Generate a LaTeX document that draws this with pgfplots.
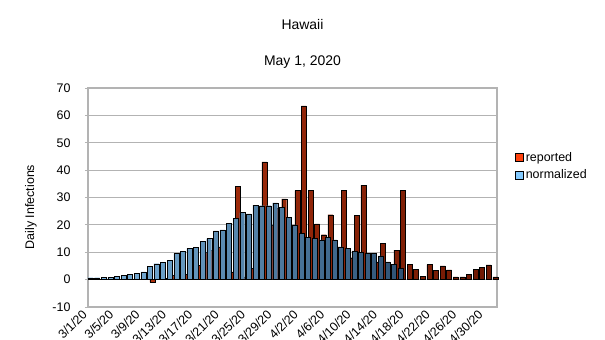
\documentclass[border=0pt]{standalone}
\usepackage{pgfplots}
\pgfplotsset{compat=1.18}
\usepackage{fontspec}
\setmainfont{Liberation Sans}
\definecolor{redL}{HTML}{FF420E}
\definecolor{redA}{HTML}{B8350F}
\definecolor{redB}{HTML}{6E1803}
\definecolor{blueL}{HTML}{83CAFF}
\definecolor{blueA}{HTML}{7DB6E0}
\definecolor{blueB}{HTML}{2E5274}
\definecolor{gridc}{HTML}{B3B3B3}
\begin{document}
\begin{tikzpicture}
\path[use as bounding box] (0bp,0bp) rectangle (605bp,340bp);
\begin{axis}[
  at={(88bp,33bp)}, anchor=south west,
  scale only axis, width=409bp, height=219bp,
  xmin=-0.5, xmax=61.5, ymin=-10, ymax=70,
  ytick={-10,0,...,70},
  ymajorgrids, grid style={gridc, line width=0.8pt},
  axis line style={gridc, line width=1.2pt},
  xtick={0,4,...,60},
  xticklabels={3/1/20,3/5/20,3/9/20,3/13/20,3/17/20,3/21/20,3/25/20,3/29/20,4/2/20,4/6/20,4/10/20,4/14/20,4/18/20,4/22/20,4/26/20,4/30/20},
  xtick style={draw=none},
  ytick style={gridc, line width=0.8pt},
  xtick pos=bottom, ytick pos=left,
  tick align=outside, major tick length=3bp,
  xticklabel style={rotate=45, anchor=north east, xshift=-5bp, yshift=9bp, inner sep=1pt},
  yticklabel style={xshift=-11bp},
  tick label style={font=\fontsize{12.5}{14}\selectfont},
  /pgf/number format/assume math mode=true,
  clip=false,
  legend style={at={(1.044,0.717)}, anchor=north west, draw=none, fill=none,
    font=\fontsize{12.5}{14}\selectfont, row sep=3bp, inner sep=0pt},
  legend cell align=left,
  legend image code/.code={\draw[#1] (0bp,-4bp) rectangle (8bp,4bp);},
  bar width=5bp,
]
\addlegendimage{fill=redL, draw=black, line width=0.6pt}
\addlegendentry{reported}
\addlegendimage{fill=blueL, draw=black, line width=0.6pt}
\addlegendentry{normalized}
\addplot[ybar, bar shift=1.6bp, left color=redA, right color=redB, draw=black, line width=0.4pt, forget plot] coordinates {
(0,0) (1,0) (2,0) (3,0) (4,0) (5,1) (6,0) (7,0) (8,1) (9,-1)
(10,0) (11,0.5) (12,1.6) (13,2) (14,2) (15,2) (16,5.2) (17,10) (18,10.8) (19,12)
(20,15.5) (21,2.8) (22,34) (23,1) (24,4) (25,10.6) (26,43) (27,20) (28,26) (29,29.5)
(30,18) (31,32.5) (32,63.5) (33,32.7) (34,20.4) (35,16.4) (36,23.7) (37,12) (38,32.7) (39,8)
(40,23.6) (41,34.5) (42,3) (43,6.5) (44,13.2) (45,5) (46,10.8) (47,32.5) (48,5.5) (49,3.8)
(50,1.2) (51,5.5) (52,3.4) (53,5) (54,3.6) (55,1) (56,1) (57,1.8) (58,3.8) (59,4.4)
(60,5.4) (61,1)
};
\addplot[ybar, bar shift=-0.8bp, left color=blueA, right color=blueB, draw=black, line width=0.4pt, forget plot] coordinates {
(0,0.7) (1,0.7) (2,0.9) (3,0.9) (4,1.2) (5,1.5) (6,1.9) (7,2.2) (8,2.8) (9,4.9)
(10,5.8) (11,6.4) (12,7) (13,9.6) (14,10.4) (15,11.4) (16,11.8) (17,14) (18,15) (19,17.8)
(20,18.2) (21,20.5) (22,22.4) (23,24.5) (24,24) (25,27.2) (26,27) (27,27) (28,28) (29,26.5)
(30,22.7) (31,20) (32,16.9) (33,15.5) (34,15) (35,14.5) (36,15.5) (37,14.5) (38,12) (39,11.5)
(40,10.5) (41,10) (42,9.7) (43,9.5) (44,8.7) (45,6.5) (46,5.7) (47,4)
};
\end{axis}
\node[font=\fontsize{14}{16}\selectfont] at (302.5bp,315bp) {Hawaii};
\node[font=\fontsize{14}{16}\selectfont] at (302.5bp,278bp) {May 1, 2020};
\node[font=\fontsize{12.5}{14}\selectfont, rotate=90] at (31bp,133bp) {Daily Infections};
\end{tikzpicture}
\end{document}
